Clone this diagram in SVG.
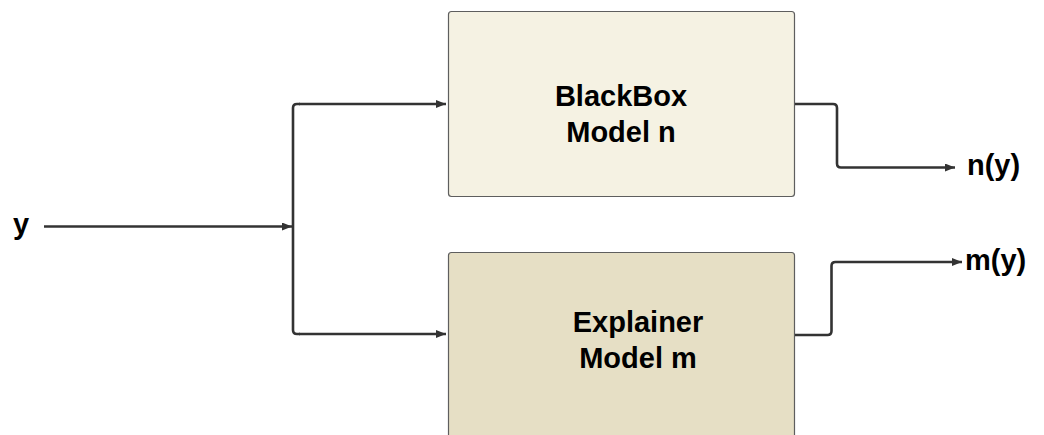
<svg xmlns="http://www.w3.org/2000/svg" width="1044" height="435" viewBox="0 0 1044 435">
  <style>
    .box { stroke: #5e5e5e; stroke-width: 1.2; }
    .label { font-family: "Liberation Sans", Arial, sans-serif; font-weight: bold; font-size: 29px; fill: #000; }
    .wire { fill: none; stroke: #333; stroke-width: 2.6; stroke-linejoin: round; }
  </style>
  <defs>
    <marker id="arrow" viewBox="0 0 10 8" refX="10" refY="4" markerWidth="10" markerHeight="8" markerUnits="userSpaceOnUse" orient="auto">
      <path d="M0,0 L10,4 L0,8 Z" fill="#333"/>
    </marker>
  </defs>

  <rect width="1044" height="435" fill="#fff"/>

  <g id="input-y">
    <text class="label" x="13" y="234">y</text>
  </g>

  <g id="blackbox">
    <rect class="box" x="448.5" y="11.5" width="346" height="185" rx="3" fill="#f5f2e3"/>
    <text class="label" x="621" y="106" text-anchor="middle">BlackBox</text>
    <text class="label" x="621" y="142" text-anchor="middle">Model n</text>
  </g>

  <g id="explainer">
    <rect class="box" x="448.5" y="252.5" width="346" height="200" rx="3" fill="#e6dfc5"/>
    <text class="label" x="638" y="332" text-anchor="middle">Explainer</text>
    <text class="label" x="638" y="368" text-anchor="middle">Model m</text>
  </g>

  <g id="output-n">
    <text class="label" x="967" y="175">n(y)</text>
  </g>

  <g id="output-m">
    <text class="label" x="965" y="270">m(y)</text>
  </g>

  <g id="connectors">
    <path class="wire" d="M44,226.5 H292" marker-end="url(#arrow)"/>
    <!-- splitter: vertical bus feeding both models -->
    <path class="wire" d="M300,104 H297 Q293,104 293,108 V330 Q293,334 297,334 H300"/>
    <path class="wire" d="M299,104 H446" marker-end="url(#arrow)"/>
    <path class="wire" d="M299,334 H446" marker-end="url(#arrow)"/>
    <path class="wire" d="M795,104 H833 Q837,104 837,108 V163.5 Q837,167.5 841,167.5 H955" marker-end="url(#arrow)"/>
    <path class="wire" d="M795,335 H827.5 Q831.5,335 831.5,331 V266 Q831.5,262 835.5,262 H962" marker-end="url(#arrow)"/>
  </g>
</svg>
